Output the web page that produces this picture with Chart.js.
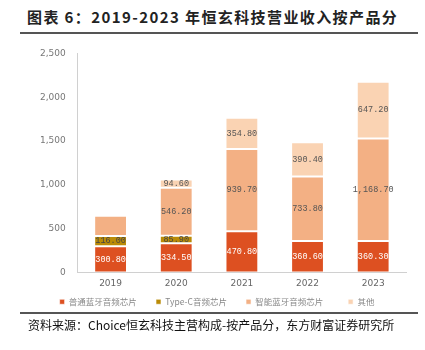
<!DOCTYPE html>
<html>
<head>
<meta charset="utf-8">
<script src="https://cdn.jsdelivr.net/npm/chart.js@4"></script>
<style>
    body { margin: 0; background: #fff; width: 425px; height: 350px; position: relative; overflow: hidden; font-family: "Noto Sans CJK SC", sans-serif; }
    #title { position: absolute; left: 27px; top: 6px; font-size: 15px; letter-spacing: 1.4px; font-weight: bold; color: #222; white-space: nowrap; }
    .rule { position: absolute; left: 20px; width: 398px; height: 2px; background: #555; }
    #source { position: absolute; left: 28px; top: 316px; font-size: 12px; color: #111; white-space: nowrap; }
    #wrap { position: absolute; left: 0; top: 36px; width: 425px; height: 280px; }
</style>
</head>
<body>
<div id="title">图表 6：2019-2023 年恒玄科技营业收入按产品分</div>
<div id="wrap"><canvas id="chart"></canvas></div>
<div class="rule" style="top:32px"></div>
<div class="rule" style="top:312px"></div>
<div id="source">资料来源：Choice恒玄科技主营构成-按产品分，东方财富证券研究所</div>
<script>
const years = ['2019', '2020', '2021', '2022', '2023'];
const seriesNames = ['普通蓝牙音频芯片', 'Type-C音频芯片', '智能蓝牙音频芯片', '其他'];
const normalBt = [300.8, 334.5, 470.8, 360.6, 360.3];
const typeC = [116.0, 85.9, 0, 0, 0];
const smartBt = [229.5, 546.2, 939.7, 733.8, 1168.7];
const others = [0, 94.6, 354.8, 390.4, 647.2];
const yTicks = [0, 500, 1000, 1500, 2000, 2500];
// labels that the source leaves out
const hiddenLabels = [[2, 0]];

const colors = ['#DD5021', '#BA8B07', '#F3B084', '#FAD3B3'];
const labelColors = ['#ffffff', '#444444', '#555555', '#555555'];
const legendGaps = ['         ', '         ', '            ', ''];

function fmt(v) {
    return v.toLocaleString('en-US', { minimumFractionDigits: 2, maximumFractionDigits: 2 });
}

const segLabels = {
    id: 'segLabels',
    afterDatasetsDraw(chart) {
        const ctx = chart.ctx;
        ctx.save();
        ctx.font = '8.5px "Liberation Mono", monospace';
        ctx.textAlign = 'center';
        ctx.textBaseline = 'middle';
        chart.data.datasets.forEach((ds, di) => {
            const meta = chart.getDatasetMeta(di);
            meta.data.forEach((bar, i) => {
                const v = ds.data[i];
                if (!v) return;
                if (hiddenLabels.some(h => h[0] === di && h[1] === i)) return;
                ctx.fillStyle = labelColors[di];
                ctx.fillText(fmt(v), bar.x, (bar.y + bar.base) / 2);
            });
        });
        ctx.restore();
    }
};

const data = [normalBt, typeC, smartBt, others];

new Chart(document.getElementById('chart'), {
    type: 'bar',
    data: {
        labels: years,
        datasets: data.map((d, i) => ({
            label: seriesNames[i],
            data: d,
            backgroundColor: colors[i],
            borderColor: 'rgba(255,255,255,0.6)',
            borderWidth: 1,
            borderSkipped: false,
            categoryPercentage: 1.0,
            barPercentage: 0.5
        }))
    },
    options: {
        responsive: true,
        maintainAspectRatio: false,
        animation: false,
        layout: { padding: { left: 28, right: 19, top: 4, bottom: 0 } },
        scales: {
            x: {
                stacked: true,
                grid: { display: false, drawTicks: false },
                border: { color: '#d0d0d0' },
                ticks: { color: '#666', padding: 7, font: { size: 9, family: 'DejaVu Sans', lineHeight: 1 } }
            },
            y: {
                stacked: true,
                min: 0,
                max: 2500,
                afterBuildTicks: (axis) => { axis.ticks = yTicks.map(v => ({ value: v })); },
                grid: { display: false, drawTicks: false },
                border: { color: '#d0d0d0' },
                ticks: {
                    color: '#777',
                    padding: 12,
                    font: { size: 9, family: 'DejaVu Sans' },
                    callback: (v) => v.toLocaleString('en-US')
                }
            }
        },
        plugins: {
            legend: {
                position: 'bottom',
                labels: {
                    boxWidth: 5,
                    boxHeight: 5,
                    padding: 2,
                    color: '#888',
                    font: { size: 8.5, family: '"Noto Sans CJK SC"', lineHeight: 1 },
                    generateLabels: (chart) => Chart.defaults.plugins.legend.labels.generateLabels(chart).map((l, i) => {
                        l.text = l.text + legendGaps[i];
                        return l;
                    })
                }
            },
            tooltip: { enabled: false }
        }
    },
    plugins: [segLabels]
});
</script>
</body>
</html>
